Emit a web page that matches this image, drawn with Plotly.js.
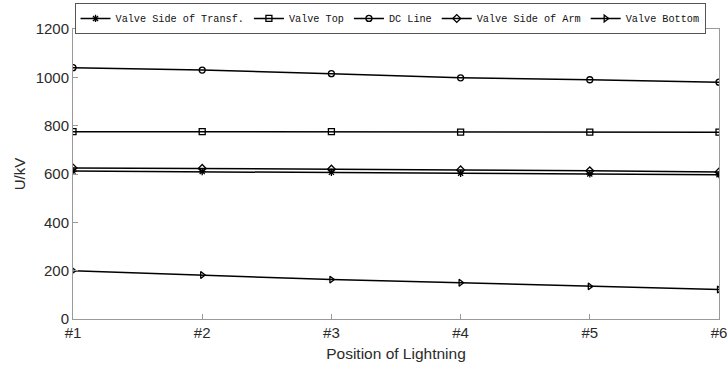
<!DOCTYPE html>
<html><head><meta charset="utf-8">
<script src="https://cdn.plot.ly/plotly-3.0.1.min.js"></script>
<style>html,body{margin:0;padding:0;background:#fff}</style>
</head><body>
<div id="chart" style="width:727px;height:369px"></div>
<script>
const positions = ['#1','#2','#3','#4','#5','#6'];
const seriesNames = ['Valve Side of Transf.','Valve Top','DC Line','Valve Side of Arm','Valve Bottom'];
const valveSideTransf = [612, 610, 607, 603, 600, 597];
const valveTop = [775, 775, 775, 773, 773, 773];
const dcLine = [1040, 1030, 1015, 998, 990, 980];
const valveSideArm = [625, 623, 620, 617, 613, 608];
const valveBottom = [200, 182, 163, 150, 135, 122];
const yTicks = [0, 200, 400, 600, 800, 1000, 1200];

const symbols = ['asterisk-open','square-open','circle-open','diamond-open','triangle-right-open'];
const data = [valveSideTransf, valveTop, dcLine, valveSideArm, valveBottom].map((v,i)=>({
  x: positions, y: v, name: seriesNames[i], type:'scatter', mode:'lines+markers',
  line:{color:'#000', width:1.5},
  marker:{symbol: symbols[i], size:6, color:'#000', line:{color:'#000', width:1.3}}
}));

const tickFont = {family:'Liberation Sans, Arial, sans-serif', size:15, color:'#2b2b2b'};
const layout = {
  width:727, height:369,
  margin:{l:73, r:8, t:29, b:50, autoexpand:false},
  paper_bgcolor:'#fff', plot_bgcolor:'#fff',
  showlegend:true,
  legend:{orientation:'h', xref:'container', yref:'container',
    x:0.1025, xanchor:'left', y:0.992, yanchor:'top',
    bordercolor:'#555', borderwidth:1, bgcolor:'#fff',
    font:{family:'Liberation Mono, monospace', size:10.2, color:'#111'},
    itemwidth:30, tracegroupgap:0, traceorder:'normal'},
  xaxis:{type:'category', range:[0,5], tickvals:positions, ticktext:positions,
    showline:true, linecolor:'#9a9a9a', linewidth:1, mirror:true,
    ticks:'inside', ticklen:5, tickcolor:'#9a9a9a', showgrid:false, zeroline:false,
    tickfont:tickFont,
    title:{text:'Position of Lightning', font:{family:'Liberation Sans, Arial, sans-serif', size:15.5, color:'#2b2b2b'}, standoff:8},
    automargin:false},
  yaxis:{range:[0,1200], tickvals:yTicks,
    showline:true, linecolor:'#9a9a9a', linewidth:1, mirror:true,
    ticks:'inside', ticklen:5, tickcolor:'#9a9a9a', showgrid:false, zeroline:false,
    tickfont:tickFont,
    title:{text:'U/kV', font:{family:'Liberation Sans, Arial, sans-serif', size:15, color:'#2b2b2b'}, standoff:6},
    automargin:false}
};
Plotly.newPlot('chart', data, layout, {displayModeBar:false, staticPlot:true});
</script>
</body></html>
